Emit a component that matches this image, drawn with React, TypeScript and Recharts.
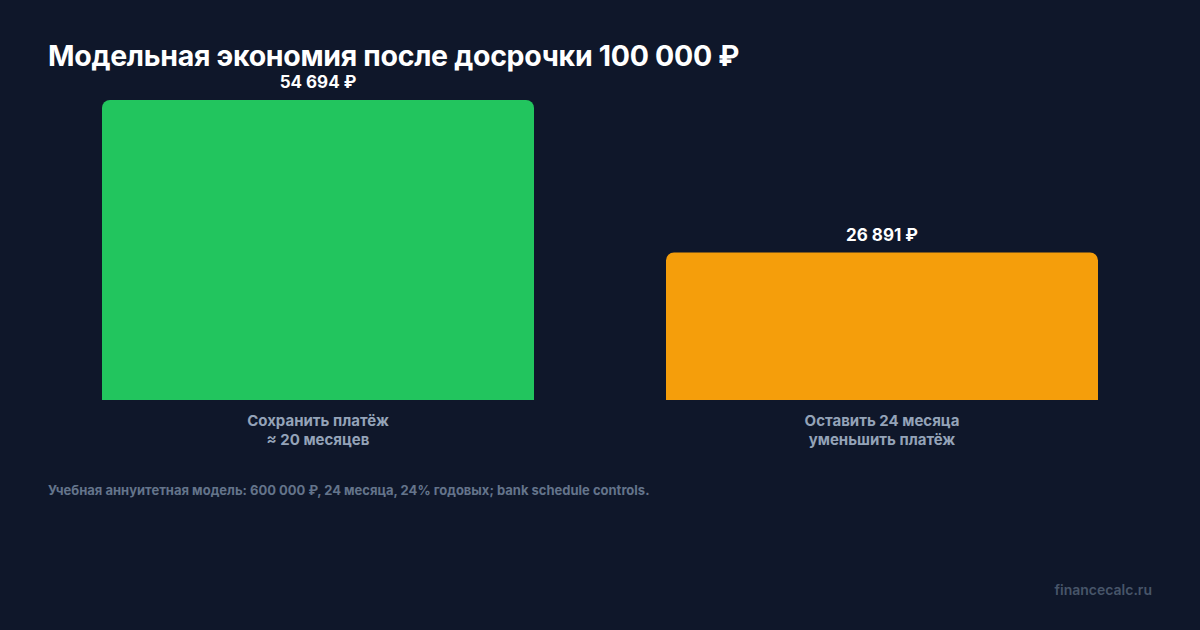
import { BarChart, Bar, XAxis, YAxis, Cell, LabelList } from 'recharts';

const categories = ['Сохранить платёж\n≈ 20 месяцев', 'Оставить 24 месяца\nуменьшить платёж'];
const savings = [54694, 26891];
const barColors = ['#22c55e', '#f59e0b'];

const chartData = categories.map((name, i) => ({ name, savings: savings[i] }));

const font = 'Inter, "Noto Sans", sans-serif';

const formatRub = (v: number) => `${v.toLocaleString('ru-RU').replace(/\s/g, ' ')} ₽`;

function CategoryTick({ x, y, payload }: any) {
	const lines = String(payload.value).split('\n');
	return (
		<text x={x} y={y} textAnchor="middle" fill="#94a3b8" fontSize={15} fontWeight={700} fontFamily={font}>
			{lines.map((line, i) => (
				<tspan key={i} x={x} dy={i === 0 ? 18 : 19}>
					{line}
				</tspan>
			))}
		</text>
	);
}

export default function App() {
	return (
		<div style={{ position: 'absolute', left: 0, top: 0, width: 1200, height: 630, background: '#0f172a', fontFamily: font }}>
			<div style={{ position: 'absolute', left: 48, top: 38, color: '#ffffff', fontSize: 28.5, fontWeight: 700, letterSpacing: -0.3 }}>
				Модельная экономия после досрочки 100 000 ₽
			</div>
			<BarChart
				width={1200}
				height={630}
				data={chartData}
				margin={{ top: 100, right: 36, left: 36, bottom: 170 }}
				barSize={432}
			>
				<XAxis dataKey="name" axisLine={false} tickLine={false} height={60} interval={0} tick={<CategoryTick />} />
				<YAxis hide domain={[0, 'dataMax']} />
				<Bar dataKey="savings" radius={[8, 8, 0, 0]} isAnimationActive={false}>
					{chartData.map((d, i) => (
						<Cell key={d.name} fill={barColors[i]} />
					))}
					<LabelList
						dataKey="savings"
						position="top"
						offset={12}
						formatter={(v: any) => formatRub(Number(v))}
						fill="#ffffff"
						fontSize={17}
						fontWeight={700}
						fontFamily={font}
					/>
				</Bar>
			</BarChart>
			<div style={{ position: 'absolute', left: 48, top: 482, color: '#64748b', fontSize: 13, fontWeight: 700 }}>
				Учебная аннуитетная модель: 600 000 ₽, 24 месяца, 24% годовых; bank schedule controls.
			</div>
			<div style={{ position: 'absolute', right: 48, top: 581, color: '#475569', fontSize: 14, fontWeight: 600 }}>
				financecalc.ru
			</div>
		</div>
	);
}
